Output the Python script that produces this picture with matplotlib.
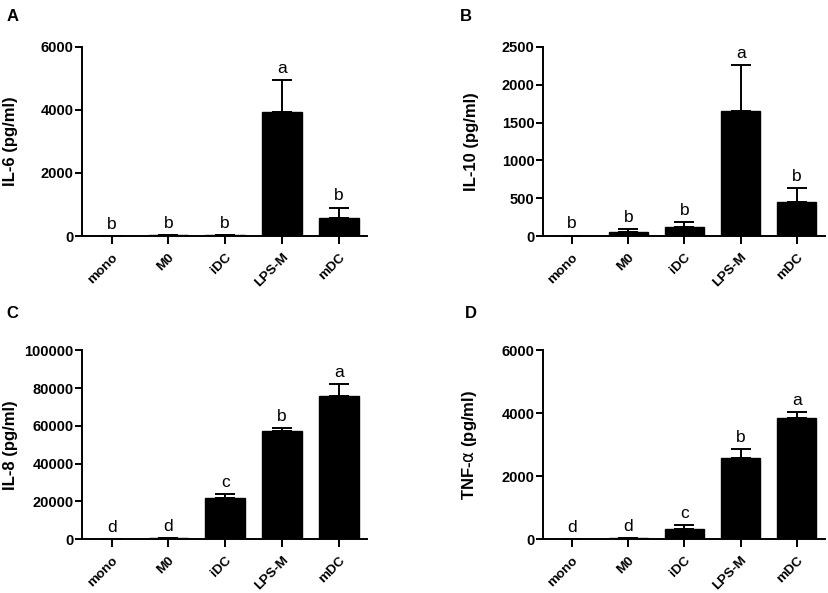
import matplotlib
matplotlib.use('Agg')
import matplotlib.pyplot as plt
from matplotlib.transforms import ScaledTranslation

plt.rcParams['font.family'] = ['Liberation Sans', 'DejaVu Sans']

groups = ['mono', 'M0', 'iDC', 'LPS-M', 'mDC']

il6 = [5, 20, 20, 3930, 560]
il6_err = [0, 0, 0, 1020, 340]
il6_sig = ['b', 'b', 'b', 'a', 'b']

il10 = [5, 57, 123, 1653, 446]
il10_err = [0, 31, 66, 609, 185]
il10_sig = ['b', 'b', 'b', 'a', 'b']

il8 = [100, 600, 22000, 57200, 76000]
il8_err = [0, 0, 2000, 1800, 6000]
il8_sig = ['d', 'd', 'c', 'b', 'a']

tnf = [5, 20, 317, 2593, 3862]
tnf_err = [0, 0, 117, 264, 180]
tnf_sig = ['d', 'd', 'c', 'b', 'a']

panels = [
    ('A', 'IL-6 (pg/ml)', il6, il6_err, il6_sig, 6000, [0, 2000, 4000, 6000]),
    ('B', 'IL-10 (pg/ml)', il10, il10_err, il10_sig, 2500, [0, 500, 1000, 1500, 2000, 2500]),
    ('C', 'IL-8 (pg/ml)', il8, il8_err, il8_sig, 100000, [0, 20000, 40000, 60000, 80000, 100000]),
    ('D', r'TNF-$\mathrm{\alpha}$ (pg/ml)', tnf, tnf_err, tnf_sig, 6000, [0, 2000, 4000, 6000]),
]

# axes boxes in figure fractions (left, bottom, width, height)
boxes = [
    (0.099, 0.602, 0.344, 0.319),
    (0.655, 0.602, 0.340, 0.319),
    (0.099, 0.091, 0.344, 0.318),
    (0.655, 0.091, 0.340, 0.318),
]
label_pos = [(0.008, 0.972), (0.555, 0.972), (0.008, 0.472), (0.561, 0.472)]

fig = plt.figure(figsize=(8.29, 5.93), dpi=100)
shift = ScaledTranslation(4 / 100, 0, fig.dpi_scale_trans)

for (letter, ylab, vals, errs, sig, ymax, yt), box, lp in zip(panels, boxes, label_pos):
    ax = fig.add_axes(box)
    x = range(len(groups))
    ax.bar(x, vals, width=0.7, color='black', edgecolor='black', zorder=2)
    ax.errorbar(x, vals, yerr=[[0] * len(errs), errs], fmt='none', ecolor='black',
                elinewidth=1.4, capsize=7.5, capthick=1.4, zorder=1)
    for i in x:
        ax.annotate(sig[i], (i, vals[i] + errs[i]), xytext=(0, 3), textcoords='offset points',
                    ha='center', va='bottom', fontsize=12.5)
    ax.set_xlim(-0.52, 4.5)
    ax.set_ylim(0, ymax)
    ax.set_yticks(yt)
    ax.set_yticklabels([str(v) for v in yt], fontweight='bold', fontsize=10.5)
    ax.set_xticks(list(x))
    ax.set_xticklabels(groups, rotation=45, ha='right', rotation_mode='anchor',
                       fontweight='bold', fontsize=9.7)
    for lab in ax.get_xticklabels():
        lab.set_transform(lab.get_transform() + shift)
    ax.tick_params(axis='y', length=5, width=1.4, pad=1)
    ax.tick_params(axis='x', length=6, width=1.4, pad=5)
    ax.spines['top'].set_visible(False)
    ax.spines['right'].set_visible(False)
    ax.spines['left'].set_linewidth(1.4)
    ax.spines['bottom'].set_linewidth(1.4)
    ax.set_ylabel(ylab, fontweight='bold', fontsize=12)
    ax.yaxis.set_label_coords(-0.226, 0.5)
    fig.text(lp[0], lp[1], letter, fontweight='bold', fontsize=12, va='center')

fig.savefig('out.png', dpi=100)
